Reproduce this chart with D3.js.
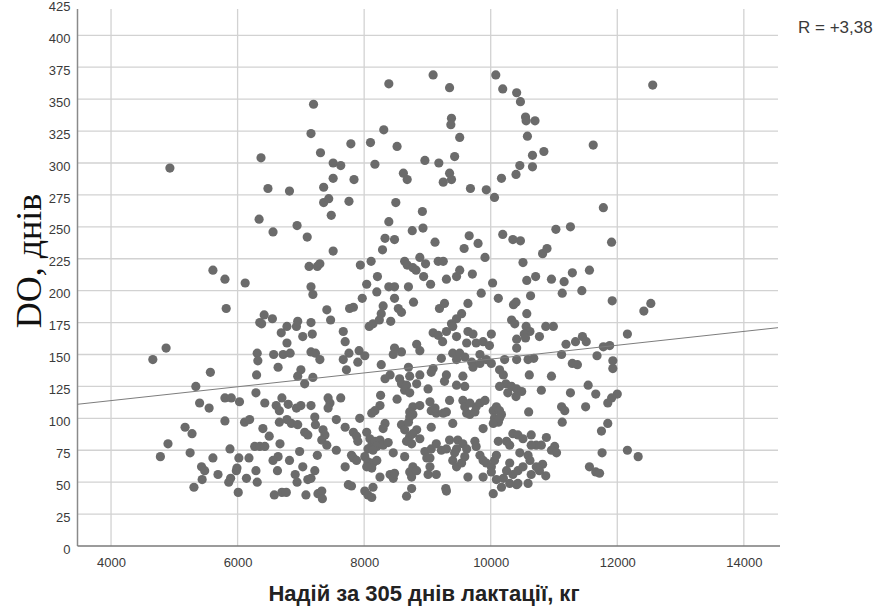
<!DOCTYPE html>
<html>
<head>
<meta charset="utf-8">
<script src="https://cdn.jsdelivr.net/npm/d3@7/dist/d3.min.js"></script>
<style>
  body { margin: 0; background: #ffffff; }
  svg { display: block; }
</style>
</head>
<body>
<div id="main_output"></div>
<script>
// milk yield for 305 days (kg), days open
const observations = [
  [7200,346],[7160,323],[7310,308],[6370,304],[4930,296],[6480,280],[6820,278],[7510,300],[7630,298],[7360,281],
  [7510,288],[7840,287],[7790,315],[8100,316],[8310,326],[8390,362],[8170,299],[8520,313],[8620,292],[8680,287],
  [8960,302],[9090,369],[9180,300],[9350,359],[9380,335],[9370,330],[9510,320],[9430,305],[9350,292],[9380,287],
  [9250,285],[9680,280],[9930,279],[10080,369],[10190,358],[10410,355],[10470,348],[10550,336],[10560,333],[10700,333],
  [10580,321],[10660,306],[10840,309],[10660,297],[10460,298],[10400,291],[10170,288],[11620,314],[12560,361],
  [6340,256],[6560,246],[6940,251],[7100,242],[5610,216],[5800,209],[6120,206],[7130,219],[7260,219],[7160,203],
  [7190,197],[5820,186],[6420,181],[6550,178],[6350,175],[6380,174],[6690,167],[6780,172],[6930,172],[6950,176],
  [7160,175],[6780,159],[7030,164],[7180,166],[4870,155],[4660,146],[6310,151],[6320,145],[6570,150],[6720,150],
  [6830,151],[7160,152],[7230,151],[6640,140],[7000,138],
  [5570,136],[6300,134],[6950,133],[7060,127],[7190,132],[5340,125],[6290,120],[5800,116],[5900,116],[6030,113],
  [5400,112],[5550,108],[6430,112],[6610,110],[6700,116],[6800,111],[6660,106],[6930,108],[7000,110],[7160,110],
  [5800,98],[6110,97],[6190,99],[6400,92],[6500,86],[6660,97],[6780,99],[6850,96],[6950,95],[7220,101],
  [7230,95],[7060,89],[7110,87],[5170,93],[5280,88],[4900,80],[4780,70],[5250,73],[5880,76],[5610,69],
  [6020,69],[6180,69],[6270,78],[6350,78],[6430,78],[6670,80],[6640,70],[6560,67],[6820,67],[6980,74],
  [7260,71],[5430,62],[5480,59],[5690,56],[5440,52],[5310,46],[5990,61],[5980,59],[6140,53],[6290,59],
  [5890,53],[5860,50],[6310,50],[6010,42],[6630,59],[6910,56],[6940,50],[7030,62],[7110,52],[7220,59],
  [7160,53],[6580,40],[6700,42],[6770,42],[7080,40],[7270,41],
  [10060,273],[7360,269],[7440,272],[7480,259],[7760,270],[8500,269],[8920,262],[8390,254],[8930,249],[8760,247],
  [8330,241],[8480,240],[8290,232],[9120,238],[9660,243],[9800,237],[9580,233],[9910,226],[10190,244],[10350,240],
  [10470,239],[10820,229],[10890,233],[7510,231],[7300,221],[7940,220],[8110,223],[8640,223],[8680,220],[8770,218],
  [8880,226],[8970,221],[8820,216],[9170,223],[9250,223],[8940,211],[9050,205],[9300,209],[9460,211],[9510,216],
  [9710,213],[10030,206],[10510,222],[10570,208],[10710,211],[10960,209],[8210,211],[8040,205],[8200,199],[8390,203],
  [8480,203],[8700,203],[7970,194],[8480,194],[8780,191],[9850,198],[10120,194],[9640,190],[10630,196],[7410,185],
  [7470,177],[7770,186],[7830,187],[8300,188],[8270,182],[8540,186],[8590,183],[9190,186],[9270,190],[9540,182],
  [9460,178],[9380,174],[10360,189],[10400,191],[10570,182],[10330,177],[10380,174],[10560,172],[10620,168],[10530,166],
  [10870,172],[10990,172],[10770,164],[10410,162],[8080,172],[8140,174],[8240,177],[8420,176],[7670,168],[7700,160],
  [9090,167],[9170,165],[9300,168],[9400,172],[9460,164],[9640,168],[9720,166],[9620,159],[9770,159],[10010,166],
  [9880,160],[9980,157],[9240,160],[10410,155],[10550,163],[7300,146],[7760,151],[7920,153],[7900,144],[8010,149],
  [7670,146],[8480,155],[8460,150],[8590,152],[8830,158],[8880,153],[9220,147],[9400,151],[9510,151],[9590,148],
  [9700,144],[9830,150],[9930,146],[10010,143],[10220,146],[10410,146],[10680,147],[8270,142],[8700,140],[9090,139],
  [11780,265],[11030,248],[11260,250],[11910,238],[11560,216],[11290,214],[11160,207],[11130,198],[11440,200],[11920,192],
  [12420,184],[12530,190],[12160,166],[11450,164],[11510,160],[11340,160],[11190,158],[11780,156],[11880,157],[11120,150],
  [11680,149],[11290,143],[11370,142],[11930,145],[11930,139],
  [10960,133],[10800,122],[11540,126],[11260,120],[11660,119],[12000,119],[11910,116],[11850,112],[11500,109],[11120,109],
  [11170,106],[11130,97],[11850,96],[11750,90],[10880,85],[10800,79],[11010,78],[10960,75],[11040,73],[11760,73],
  [12160,75],[12330,70],[10820,64],[10870,55],[11560,62],[11660,58],[11720,57],
  [7720,138],[9460,146],[9720,140],[9830,143],[10590,146],[8410,134],[8330,131],[8560,131],[8590,127],[8670,126],
  [8720,133],[8880,134],[8830,127],[9060,136],[9300,134],[9270,129],[9560,133],[9460,126],[9590,125],[9010,123],
  [10140,138],[10200,134],[10240,127],[10140,125],[10330,125],[10410,123],[10490,121],[10610,134],[8640,122],[8720,120],
  [8260,118],[8520,115],[7430,116],[7460,112],[7430,108],[7630,116],[8250,110],[8170,106],[8120,104],[9040,113],
  [9060,106],[9140,104],[9250,104],[9300,105],[9120,108],[8770,109],[8720,105],[8770,103],[8880,110],[9350,114],
  [9560,114],[9590,109],[9620,104],[9670,103],[9750,105],[9770,109],[9670,112],[9830,112],[9910,114],[10040,106],
  [10090,109],[10140,106],[10170,103],[10060,100],[10120,97],[10040,96],[10140,100],[10270,120],[10400,117],[10600,105],
  [7350,91],[7380,87],[7330,83],[7560,99],[7700,93],[7930,100],[7830,89],[7880,86],[7900,82],[8040,89],
  [8090,84],[8120,79],[8170,82],[8250,83],[8200,78],[8060,76],[8140,75],[8300,79],[8380,81],[8330,96],
  [8300,92],[8590,95],[8640,91],[8720,86],[8670,82],[8750,80],[8830,91],[8880,84],[8770,88],[8700,97],
  [8720,101],[9060,93],[9400,96],[9880,92],[7410,79],[7560,75],[7800,71],[7830,69],[7880,67],[8010,70],
  [8060,66],[8140,65],[8120,61],[8040,62],[8200,67],[8460,73],[8640,70],[8960,74],[8990,69],[9060,76],
  [9140,80],[9220,75],[9300,76],[9350,83],[9480,83],[9560,80],[9460,76],[9620,76],[9750,82],[9770,78],
  [9400,67],[9460,62],[9540,65],[9590,70],[9430,73],[9830,71],[9880,67],[9930,65],[10010,62],[10060,67],
  [10090,71],[10120,82],[10250,82],[10300,79],[10350,88],[10430,87],[10510,84],[10640,87],[10720,79],[10640,79],
  [10590,71],[10460,73],[10300,65],[10250,59],[10350,56],[10430,59],[10510,62],[10620,67],[10720,62],[10770,59],
  [10640,56],[10590,49],[10430,49],[10300,49],[10200,53],[10170,46],[10090,52],[10010,58],[10040,41],[8250,54],
  [8410,56],[8460,53],[8480,57],[8720,58],[8750,54],[8770,62],[8830,59],[9010,56],[9040,62],[9140,56],
  [9040,69],[7700,62],[7750,48],[7800,47],[8140,46],[8010,43],[8060,40],[8120,38],[8750,45],[8670,39],
  [9290,45],[9300,43],[9640,54],[9880,54],[7330,43],[7340,37],[10410,48]
];

const xTicks = [4000, 6000, 8000, 10000, 12000, 14000];
const yTicks = [0, 25, 50, 75, 100, 125, 150, 175, 200, 225, 250, 275, 300, 325, 350, 375, 400, 425];
const fitLine = [[3470, 111], [14540, 171]];   // linear fit as drawn
const fitLabel = "R = +3,38";
const xTitle = "Надій за 305 днів лактації, кг";
const yTitle = "DO, днів";

const width = 885, height = 607;
const plot = {left: 77.5, right: 778, top: 9, bottom: 546};

const x = d3.scaleLinear().domain([3470, 14540]).range([plot.left, plot.right]);
const y = d3.scaleLinear().domain([0, 420.6]).range([plot.bottom, plot.top]);

const svg = d3.select("#main_output")
  .append("svg")
  .attr("width", width)
  .attr("height", height)
  .style("background", "#ffffff");

// grid
svg.append("g")
  .selectAll("line")
  .data(yTicks.filter(d => d > 0 && d <= 400))
  .enter()
  .append("line")
  .attr("x1", plot.left)
  .attr("x2", plot.right)
  .attr("y1", d => y(d))
  .attr("y2", d => y(d))
  .attr("stroke", "#d2d2d2")
  .attr("stroke-width", 1.3);

svg.append("g")
  .selectAll("line")
  .data(xTicks)
  .enter()
  .append("line")
  .attr("x1", d => x(d))
  .attr("x2", d => x(d))
  .attr("y1", plot.top)
  .attr("y2", plot.bottom)
  .attr("stroke", "#d2d2d2")
  .attr("stroke-width", 1.3);

// axes (labels only, lines drawn by hand)
const yAxis = d3.axisLeft(y).tickValues(yTicks).tickSize(0).tickPadding(7).tickFormat(d3.format("d"));
const xAxis = d3.axisBottom(x).tickValues(xTicks).tickSize(0).tickPadding(12).tickFormat(d3.format("d"));

svg.append("g")
  .attr("transform", "translate(" + plot.left + ",0)")
  .call(yAxis)
  .call(g => g.select(".domain").remove())
  .selectAll("text")
  .attr("dy", "0.55em")
  .attr("font-family", "'Liberation Sans', Arial, sans-serif")
  .attr("font-size", "13px")
  .attr("fill", "#3a3a3a");

svg.append("g")
  .attr("transform", "translate(0," + plot.bottom + ")")
  .call(xAxis)
  .call(g => g.select(".domain").remove())
  .selectAll("text")
  .attr("font-family", "'Liberation Sans', Arial, sans-serif")
  .attr("font-size", "13px")
  .attr("fill", "#3a3a3a");

svg.append("line")
  .attr("x1", plot.left).attr("x2", plot.left)
  .attr("y1", plot.top).attr("y2", plot.bottom)
  .attr("stroke", "#8a8a8a")
  .attr("stroke-width", 1.5);

svg.append("line")
  .attr("x1", plot.left).attr("x2", plot.right + 2)
  .attr("y1", plot.bottom).attr("y2", plot.bottom)
  .attr("stroke", "#7a7a7a")
  .attr("stroke-width", 1.5);

// points
svg.append("g")
  .selectAll("circle")
  .data(observations)
  .enter()
  .append("circle")
  .attr("cx", d => x(d[0]))
  .attr("cy", d => y(d[1]))
  .attr("r", 4.6)
  .attr("fill", "#6b6b6b");

// fit line
svg.append("path")
  .datum(fitLine)
  .attr("fill", "none")
  .attr("stroke", "#7d7d7d")
  .attr("stroke-width", 1)
  .attr("d", d3.line().x(d => x(d[0])).y(d => y(d[1])));

svg.append("text")
  .attr("x", 798)
  .attr("y", 33)
  .attr("font-family", "'Liberation Sans', Arial, sans-serif")
  .attr("font-size", "17px")
  .attr("fill", "#3a3a3a")
  .text(fitLabel);

svg.append("text")
  .attr("x", 424)
  .attr("y", 601)
  .attr("text-anchor", "middle")
  .attr("font-family", "'Liberation Sans', Arial, sans-serif")
  .attr("font-weight", "bold")
  .attr("font-size", "22px")
  .attr("fill", "#222222")
  .text(xTitle);

svg.append("text")
  .attr("transform", "translate(41," + 261 + ") rotate(-90)")
  .attr("text-anchor", "middle")
  .attr("font-family", "'Liberation Serif', 'Times New Roman', serif")
  .attr("font-size", "36px")
  .attr("fill", "#111111")
  .text(yTitle);
</script>
</body>
</html>
